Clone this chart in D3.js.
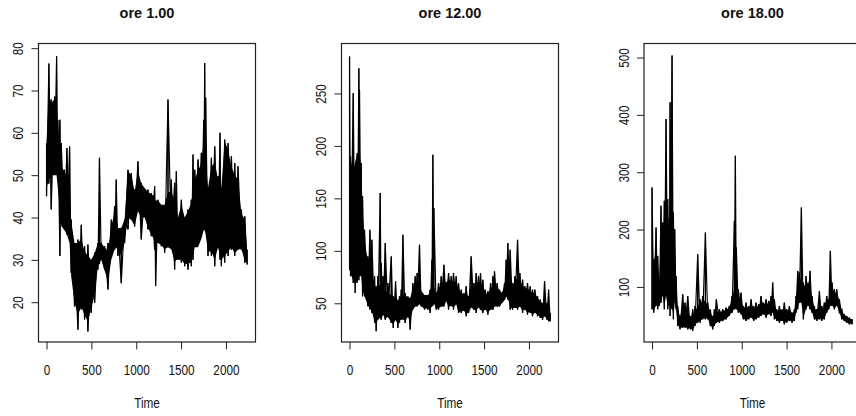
<!DOCTYPE html>
<html><head><meta charset="utf-8">
<script src="https://cdn.jsdelivr.net/npm/d3@7"></script>
<style>
html,body{margin:0;padding:0;background:#fff;overflow:hidden}
svg{display:block}
.lab{font-family:"Liberation Sans",Arial,sans-serif;font-size:14px;fill:#111}
.ttl{font-family:"Liberation Sans",Arial,sans-serif;font-weight:bold;font-size:14.5px;fill:#111}
</style></head>
<body>
<script>
// ---------- data ----------
// per time bin: lo/hi = extreme reach of the thin lines, coreLo/coreHi = solid black band
const xTicks = [0, 500, 1000, 1500, 2000];

const titles = ["ore 1.00", "ore 12.00", "ore 18.00"];
const yTicks1 = [20, 30, 40, 50, 60, 70, 80];
const yTicks2 = [50, 100, 150, 200, 250];
const yTicks3 = [100, 200, 300, 400, 500];

const t1 = [0,26,52,90,112,126,149,164,200,227,257,275,312,350,387,424,461,498,536,573,590,610,647,685,722,759,777,796,833,870,908,945,982,1019,1056,1094,1131,1168,1205,1216,1242,1280,1317,1354,1391,1428,1447,1466,1503,1540,1577,1614,1633,1652,1689,1726,1752,1763,1774,1800,1838,1875,1912,1934,1949,1986,2024,2061,2098,2135,2172,2210,2236];
const lo1 = [45,48,41.9,51.3,52,49.8,30.9,38.7,37.2,36,34.8,26.9,19,13.5,18.3,15.9,13.1,17.5,19.8,27.7,29,30.1,27.7,23,30.9,32.4,33,30.9,24.5,34,37.2,39.5,37.9,43.5,34.8,40.3,37.2,35.6,32.4,23.8,34,33.2,31.7,35,34.8,27.7,30,30.9,29.3,28.5,27.7,28.5,30,34,34,35.6,37.9,38,38,30.9,30.9,28.5,34,30,28.5,29.3,30.9,32.4,30.9,32.4,32.4,29.3,28.9];
const hi1 = [57.6,76.4,67.9,68.6,78.1,63,63.1,57.6,51.3,56.4,56.8,39.5,32.4,34.8,38.3,33.2,33.6,29.3,31.7,34,54.1,34,33.2,34,39.5,42.7,49,37.2,37.2,39.5,51.3,50.5,46.6,53.3,48.2,46.6,46.6,45.8,47.4,42,44.2,42.7,42.7,67.9,49,48.2,50.9,38.7,44.2,37.2,41.9,44.2,54.9,51.3,53.7,55.3,63.1,76.5,68.3,45.8,54.1,56.8,49.8,60,45.8,58.4,57.6,54.5,52.9,52.1,41.9,40.3,32.4];
const coreLo1 = [47,49,50,50,50,47,42,38,37,36,34,26,20,17,19,17,15.5,18.5,22,28.5,29.5,30,27.5,25,30,32.5,33,32,31,34,40,39.5,38,41.5,40,40,37.5,36,34.5,34.5,34,33.5,32.5,33,32.5,29.5,30,30,30,29,29,29.5,31,33,33,35,37,37,36,32,32,30,33,31,30,31,32,33,31.5,32.5,32.5,30,29.3];
const coreHi1 = [58,69,67,68,67,62,56,52,51,49,47,39,34,34,35,32,31,30,31.5,34,34,34,33,32,38,41,40,37.5,37.5,39.5,51,50,46,51,48,47,46,45.5,45,44,44,43,43,46,46,44,42,40,43,40,41.5,43.5,47,49,51,53,58,56,54,47,52,53,49,50,47,58,56,52,50,49,41,39.5,32.4];

const t2 = [0,11,41,63,85,104,111,130,145,167,204,227,249,279,297,316,342,353,375,398,427,465,487,513,539,557,576,595,620,650,676,706,732,754,780,799,836,873,899,918,929,940,966,992,1022,1052,1078,1104,1133,1159,1189,1215,1245,1275,1300,1327,1356,1386,1412,1438,1460,1486,1512,1542,1572,1598,1616,1646,1672,1698,1728,1746,1765,1791,1817,1843,1873,1899,1929,1955,1984,2014,2040,2066,2096,2126,2152,2174,2200,2219,2237];
const lo2 = [82,75.7,69.3,59.8,69.3,72,75.7,75.7,56.6,56.6,47.1,44,40.8,31.2,23.3,34.4,37.6,34.4,40.8,34.4,37.6,31.2,26.5,34.4,26.5,31.2,34.4,34.4,31.2,37.6,24.9,44,47.1,47.1,50.3,47.1,44,43.9,40.8,47.1,48,50.3,44,44,47.1,47.1,53.5,44,47.1,44,50.3,40.8,40.8,43.9,37.6,40.8,47.1,43.9,40.8,47.1,43.9,40.8,43.9,39.2,43.9,43.9,47.1,47.1,47.1,50.3,53.5,56.6,53.5,44,43.9,45.5,43.9,47.1,40.8,43.9,39.2,40.8,37.6,40.8,37.6,36,34.4,37.6,34.4,32.8,32.8];
const hi2 = [285.2,190,250.3,164.6,193,274,253.5,183.6,151.9,120.1,94.7,120,110.6,75.7,66.2,75.7,155,88.4,75.7,107.4,69.3,94.7,56.6,70.9,50.3,56.6,63,115.4,59.8,56.6,50.3,69.3,75.7,78.9,105.8,59.8,53.5,56.6,63,91.5,191.5,140.8,56.6,69.3,75.7,86.8,69.3,78.9,75.7,78.9,75.7,69.3,63,59.8,66.2,56.6,94.7,69.3,78.9,75.7,78.9,72.5,63,61.4,69.3,75.7,80.4,69.3,63,59.8,69.3,91.5,107.4,101,69.3,75.7,110.6,78.9,72.5,66.2,69.3,66.2,63,63,56.6,53.5,50.3,70.9,50.3,63,40.8];
const coreLo2 = [82,78,72,68,72,75,77,76,62,57,48,45,42,33,30,35,36,35,39,35,37,32,30,34,30,33,35,35,33,37,34,44,47,47,49,47,45,45,44,47,48,50,45,45,47,47,52,47,48,46,49,42,42,43,40,41,46,44,43,46,44,42,44,41,44,44,47,47,47,50,53,56,55,46,45,46,45,47,43,44,41,42,39,41,39,37,35,38,35,34,33];
const coreHi2 = [190,188,175,185,192,195,193,180,140,110,90,85,78,68,62,66,68,65,64,62,60,58,54,56,53,55,57,58,57,56,55,64,70,70,72,62,58,58,60,68,70,66,60,64,68,70,70,72,72,70,70,64,60,58,60,56,66,66,70,70,70,66,60,59,64,66,70,66,62,60,66,85,90,78,68,70,75,72,67,64,64,62,60,60,55,52,50,52,48,50,40];

const t3 = [0,19,45,63,82,100,119,137,156,175,193,201,223,238,253,268,286,312,342,368,398,427,453,479,509,535,565,595,621,650,676,695,717,751,788,825,862,892,918,929,940,962,992,1018,1048,1078,1104,1133,1159,1189,1215,1241,1271,1301,1327,1345,1364,1390,1420,1449,1475,1501,1531,1561,1587,1605,1624,1642,1665,1687,1717,1739,1761,1784,1810,1836,1866,1892,1921,1947,1970,1988,2007,2033,2059,2089,2115,2144,2170,2200,2230];
const lo3 = [60.9,55.1,66.7,60.9,66.7,72.5,84.2,60.9,84.2,60.9,66.7,49.3,60.9,43.4,72.5,60.9,31.8,26,28.9,28.9,26,26,23.1,31.8,37.6,37.6,43.4,43.4,43.4,31.8,26,31.8,37.6,37.6,40.5,43.4,49.3,55.1,60.9,62,60.9,55.1,52.2,43.4,40.5,43.4,46.4,40.5,43.4,46.4,49.3,52.2,46.4,52.2,49.3,55.1,43.4,40.5,37.6,40.5,34.7,37.6,40.5,37.6,40.5,55.1,60.9,72.5,72.5,43.4,60.9,66.7,60.9,55.1,43.4,40.5,43.4,40.5,43.4,55.1,60.9,66.7,66.7,60.9,66.7,55.1,43.4,40.5,37.6,34.7,34.7];
const hi3 = [273.4,148.2,203.6,154.1,107.5,241.4,212.3,250.1,392.8,253.1,220,421.9,503.4,229.8,200.7,119.1,66.7,49.3,87.1,72.5,84.2,49.3,60.9,66.7,157,78.4,84.2,194.8,72.5,60.9,49.3,60.9,78.4,60.9,60.9,63.8,66.7,84.2,215.2,328.7,168.6,95.8,90,66.7,72.5,66.7,78.4,66.7,72.5,69.6,84.2,72.5,78.4,75.5,84.2,107.5,78.4,60.9,66.7,60.9,72.5,60.9,66.7,55.1,60.9,84.2,127.9,125,238.5,107.5,119.1,107.5,127.9,84.2,66.7,60.9,92.9,66.7,72.5,84.2,78.4,162.8,107.5,95.8,95.8,78.4,60.9,52.2,49.3,46.4,43.4];
const coreLo3 = [62,58,68,65,68,74,85,65,85,65,75,60,65,50,74,62,34,28,30,30,28,28,25,33,39,40,45,45,45,34,28,33,38,39,42,44,50,56,62,63,62,57,53,45,42,45,47,42,45,47,50,53,48,53,51,56,46,42,39,42,37,39,42,39,42,56,63,73,73,47,62,68,62,56,45,42,45,42,45,56,61,67,68,62,68,56,45,41,38,36,35.5];
const coreHi3 = [150,140,170,140,110,200,205,200,230,215,200,220,215,200,170,110,62,48,62,58,58,46,52,56,68,70,76,76,68,56,47,54,58,56,58,60,64,76,100,110,92,84,76,63,66,63,70,63,66,66,74,70,72,70,76,90,70,58,60,58,62,58,62,54,58,80,110,110,115,98,108,100,108,80,63,58,70,62,66,78,76,98,100,90,90,76,58,51,48,45,43];

// ---------- layout ----------
const W = 856, H = 416;
const boxTop = 43.5, boxBottom = 342;
const panels = [
  {title: titles[0], t: t1, lo: lo1, hi: hi1, cLo: coreLo1, cHi: coreHi1, yTicks: yTicks1, ylim: [10.6, 81.1], left: 38.5, right: 255.5},
  {title: titles[1], t: t2, lo: lo2, hi: hi2, cLo: coreLo2, cHi: coreHi2, yTicks: yTicks2, ylim: [13.1, 297.6], left: 341.5, right: 558.5},
  {title: titles[2], t: t3, lo: lo3, hi: hi3, cLo: coreLo3, cHi: coreHi3, yTicks: yTicks3, ylim: [3.9, 524.5], left: 644, right: 861}
];
const xlim = [-89.6, 2329.6];
const sx = 0.84; // horizontal squeeze of the label glyphs

const svg = d3.select("body").append("svg").attr("width", W).attr("height", H);

panels.forEach(p => {
  const x = d3.scaleLinear().domain(xlim).range([p.left, p.right]);
  const y = d3.scaleLinear().domain(p.ylim).range([boxBottom, boxTop]);
  const g = svg.append("g");
  const n = Math.min(p.t.length, p.lo.length, p.hi.length, p.cLo.length, p.cHi.length);
  const rows = d3.range(n).map(i => ({t: p.t[i], lo: p.lo[i], hi: p.hi[i], cLo: p.cLo[i], cHi: p.cHi[i]}));

  // solid core of the dense series
  g.append("path").datum(rows)
    .attr("d", d3.area().x(d => x(d.t)).y0(d => y(d.cLo)).y1(d => y(d.cHi)))
    .attr("fill", "#000");

  // thin excursions: zig-zag through the extremes
  const ptsA = [], ptsB = [];
  rows.forEach(d => {
    ptsA.push([d.t, d.hi], [d.t, d.lo]);
    ptsB.push([d.t, d.lo], [d.t, d.hi]);
  });
  const line = d3.line().x(d => x(d[0])).y(d => y(d[1]));
  [ptsA, ptsB].forEach(pts => {
    g.append("path").attr("d", line(pts))
      .attr("fill", "none").attr("stroke", "#000").attr("stroke-width", 1.15);
  });

  // box
  g.append("rect").attr("x", p.left).attr("y", boxTop)
    .attr("width", p.right - p.left).attr("height", boxBottom - boxTop)
    .attr("fill", "none").attr("stroke", "#222").attr("stroke-width", 1.2);

  // y axis
  const ya = g.append("g").attr("transform", `translate(${p.left},0)`)
    .call(d3.axisLeft(y).tickValues(p.yTicks).tickSize(7).tickFormat(d3.format("d")));
  ya.select(".domain").remove();
  ya.attr("font-family", null).attr("font-size", null);
  ya.selectAll(".tick line").attr("stroke", "#222");
  ya.selectAll(".tick text").attr("class", "lab").attr("x", null).attr("dy", null)
    .attr("transform", `translate(-15.3,0) rotate(-90) scale(${sx},1)`).attr("text-anchor", "middle");

  // x axis
  const xa = g.append("g").attr("transform", `translate(0,${boxBottom})`)
    .call(d3.axisBottom(x).tickValues(xTicks).tickSize(7.5).tickFormat(d3.format("d")));
  xa.select(".domain").remove();
  xa.attr("font-family", null).attr("font-size", null);
  xa.selectAll(".tick line").attr("stroke", "#222");
  xa.selectAll(".tick text").attr("class", "lab").attr("y", null).attr("dy", null)
    .attr("transform", `translate(0,33) scale(${sx},1)`).attr("text-anchor", "middle");

  const cx = (p.left + p.right) / 2;
  g.append("text").attr("class", "ttl").attr("x", cx).attr("y", 18.3)
    .attr("text-anchor", "middle").text(p.title);
  g.append("text").attr("class", "lab")
    .attr("transform", `translate(${cx},408.3) scale(${sx},1)`)
    .attr("text-anchor", "middle").text("Time");
});
</script>
</body></html>
